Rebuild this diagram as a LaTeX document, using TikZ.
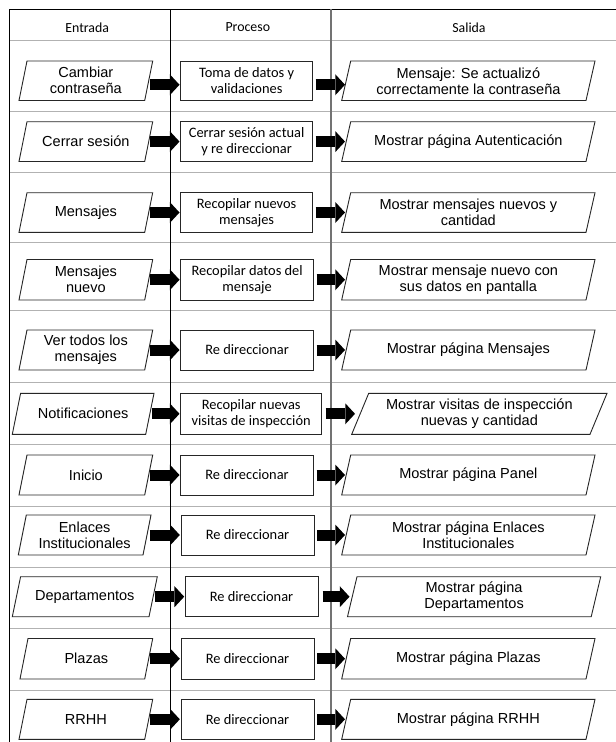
\documentclass[tikz,border=0pt]{standalone}
\usepackage{fontspec}
\setmainfont{Liberation Sans}
\newfontfamily\calfont{Carlito}
\usetikzlibrary{arrows.meta}

% one drawing unit = one pixel of the layout
\newdimen\px \px=0.75pt

\tikzset{
  frameline/.style={draw=black, line width=1\px},
  midline/.style={draw=black!55, line width=1.4\px},
  rowline/.style={draw=black!30, line width=1\px},
  shapeline/.style={draw=black!85, line width=0.9\px, line join=miter},
  % a node spanning the box (x1,y1)-(x2,y2), text centred in it
  spanbox/.style n args={4}{at={({(#1+#3)/2},{(#2+#4)/2})},
    minimum width={(#3-#1)*0.75pt}, minimum height={(#4-#2)*0.75pt}},
  colhead/.style={inner sep=0pt, font=\calfont\fontsize{10.4pt}{12pt}\selectfont},
  inshape/.style={inner sep=0pt, outer sep=0pt, align=center,
    font=\fontsize{10.9pt}{12pt}\selectfont},
  outshape/.style={inshape},
  procbox/.style={draw=black!85, line width=0.9\px, inner sep=0pt, outer sep=0pt,
    align=center, font=\calfont\fontsize{10.8pt}{12pt}\selectfont},
  flow/.style={line width=8.25pt,
    -{Triangle[length=7.3pt, width=15.75pt, line width=0pt]}},
}

% outline of a slanted (data) box around a named node
\newcommand\slantframe[2]{%
  \draw[shapeline] ([xshift=#2\px]#1.north west) -- (#1.north east)
    -- ([xshift=-#2\px]#1.south east) -- (#1.south west) -- cycle;}

\begin{document}
\begin{tikzpicture}[x=0.75pt, y=-0.75pt]
\fill[white] (0,0) rectangle (616,742);
\useasboundingbox (0,0) rectangle (616,742);

% ---- table grid ----
\foreach \yy in {40.7,111,172.7,242.7,310,382.3,444.3,506,567.7,628.3,690}
  \draw[rowline] (9,\yy) -- (616,\yy);
\draw[frameline] (616,9.3) -- (9,9.3) -- (9,742);
\draw[frameline, line width=0.9\px] (170,9.3) -- (170,742);
\draw[midline] (331,9.3) -- (331,742);

% ---- column headings ----
\node[colhead] (hin)  at (87.2,27.5)  {Entrada};
\node[colhead] (hpr)  at (247.8,27.5) {Proceso};
\node[colhead] (hout) at (469,27.5)   {Salida};

% ---- row 1 ----
\node[inshape,  spanbox={19}{61}{152.7}{100.5}]   (in1)  {Cambiar\\contraseña};
\node[procbox,  spanbox={180.7}{61}{312.5}{100.5}] (pr1)  {Toma de datos y\\validaciones};
\node[outshape, spanbox={341.7}{61}{595}{100.5}]  (out1) {Mensaje: Se actualizó\\correctamente la contraseña};
\slantframe{in1}{8}\slantframe{out1}{9}
\draw[flow] ([shift={(-2.5,4)}]in1.east) -- ([shift={(-1.2,4)}]pr1.west);
\draw[flow] ([shift={(3.2,4)}]pr1.east) -- ([shift={(3.3,4)}]out1.west);

% ---- row 2 ----
\node[inshape,  spanbox={19}{121.7}{152.7}{161.5}]   (in2)  {Cerrar sesión};
\node[procbox,  spanbox={180.7}{121.7}{312.5}{161.5}] (pr2)  {Cerrar sesión actual\\y re direccionar};
\node[outshape, spanbox={341.7}{121.7}{595}{161.5}]  (out2) {Mostrar página Autenticación};
\slantframe{in2}{8}\slantframe{out2}{9}
\draw[flow] ([xshift=-2.5\px]in2.east) -- ([xshift=-1.2\px]pr2.west);
\draw[flow] ([xshift=3.2\px]pr2.east) -- ([xshift=3.3\px]out2.west);

% ---- row 3 ----
\node[inshape,  spanbox={19}{192.7}{152.7}{232.3}]   (in3)  {Mensajes};
\node[procbox,  spanbox={180.7}{192.7}{312.5}{232.3}] (pr3)  {Recopilar nuevos\\mensajes};
\node[outshape, spanbox={341.7}{192.7}{595}{232.3}]  (out3) {Mostrar mensajes nuevos y\\cantidad};
\slantframe{in3}{8}\slantframe{out3}{9}
\draw[flow] ([xshift=-2.5\px]in3.east) -- ([xshift=-1.2\px]pr3.west);
\draw[flow] ([xshift=3.2\px]pr3.east) -- ([xshift=3.3\px]out3.west);

% ---- row 4 ----
\node[inshape,  spanbox={19}{259.5}{152.7}{300}]   (in4)  {Mensajes\\nuevo};
\node[procbox,  spanbox={180.7}{259.5}{313.5}{300}] (pr4)  {Recopilar datos del\\mensaje};
\node[outshape, spanbox={341.7}{259.5}{595}{300}]  (out4) {Mostrar mensaje nuevo con\\sus datos en pantalla};
\slantframe{in4}{8}\slantframe{out4}{9}
\draw[flow] ([xshift=-2.5\px]in4.east) -- ([xshift=-1.2\px]pr4.west);
\draw[flow] ([xshift=3.2\px]pr4.east) -- ([xshift=3.3\px]out4.west);

% ---- row 5 ----
\node[inshape,  spanbox={19}{330}{152.7}{370}]   (in5)  {Ver todos los\\mensajes};
\node[procbox,  spanbox={180.7}{330}{313.5}{370}] (pr5)  {Re direccionar};
\node[outshape, spanbox={341.7}{330}{595}{370}]  (out5) {Mostrar página Mensajes};
\slantframe{in5}{8}\slantframe{out5}{9}
\draw[flow] ([xshift=-2.5\px]in5.east) -- ([xshift=-1.2\px]pr5.west);
\draw[flow] ([xshift=3.2\px]pr5.east) -- ([xshift=3.3\px]out5.west);

% ---- row 6 ----
\node[inshape,  spanbox={12.3}{393.3}{154}{434.3}]  (in6)  {Notificaciones};
\node[procbox,  spanbox={180.7}{393.3}{321.7}{434.3}] (pr6) {Recopilar nuevas\\visitas de inspección};
\node[outshape, spanbox={351.7}{393.3}{607}{434.3}] (out6) {Mostrar visitas de inspección\\nuevas y cantidad};
\slantframe{in6}{8.3}\slantframe{out6}{17}
\draw[flow] ([xshift=-2.3\px]in6.east) -- ([xshift=-1.2\px]pr6.west);
\draw[flow] ([xshift=4\px]pr6.east) -- ([xshift=3.3\px]out6.west);

% ---- row 7 ----
\node[inshape,  spanbox={19}{455}{152.7}{495}]   (in7)  {Inicio};
\node[procbox,  spanbox={180.7}{455}{313.3}{495}] (pr7)  {Re direccionar};
\node[outshape, spanbox={341.7}{455}{595}{495}]  (out7) {Mostrar página Panel};
\slantframe{in7}{8}\slantframe{out7}{9}
\draw[flow] ([xshift=-2.5\px]in7.east) -- ([xshift=-1.2\px]pr7.west);
\draw[flow] ([xshift=3.2\px]pr7.east) -- ([xshift=3.3\px]out7.west);

% ---- row 8 ----
\node[inshape,  spanbox={18.3}{515}{151}{555}]  (in8)  {Enlaces\\Institucionales};
\node[procbox,  spanbox={181}{515}{314}{555}]   (pr8)  {Re direccionar};
\node[outshape, spanbox={341.7}{515}{595}{555}] (out8) {Mostrar página Enlaces\\Institucionales};
\slantframe{in8}{8}\slantframe{out8}{9}
\draw[flow] ([xshift=-1.5\px]in8.east) -- ([xshift=-1.2\px]pr8.west);
\draw[flow] ([xshift=3\px]pr8.east) -- ([xshift=3.3\px]out8.west);

% ---- row 9 ----
\node[inshape,  spanbox={12.3}{576.7}{157.3}{616.7}] (in9)  {Departamentos};
\node[procbox,  spanbox={185}{576.7}{318}{616.7}]    (pr9)  {Re direccionar};
\node[outshape, spanbox={347.5}{576.7}{600.7}{616.7}] (out9) {Mostrar página\\Departamentos};
\slantframe{in9}{8.3}\slantframe{out9}{9.5}
\draw[flow] ([xshift=-2.3\px]in9.east) -- ([xshift=-0.8\px]pr9.west);
\draw[flow] ([xshift=4.5\px]pr9.east) -- ([xshift=2\px]out9.west);

% ---- row 10 ----
\node[inshape,  spanbox={20}{638.5}{152.7}{679}]   (in10)  {Plazas};
\node[procbox,  spanbox={181}{638.5}{314}{679}]    (pr10)  {Re direccionar};
\node[outshape, spanbox={341.7}{638.5}{595}{679}]  (out10) {Mostrar página Plazas};
\slantframe{in10}{8}\slantframe{out10}{9}
\draw[flow] ([xshift=-2.5\px]in10.east) -- ([xshift=-1.2\px]pr10.west);
\draw[flow] ([xshift=3\px]pr10.east) -- ([xshift=3.3\px]out10.west);

% ---- row 11 ----
\node[inshape,  spanbox={19}{699.3}{152.7}{739.3}]  (in11)  {RRHH};
\node[procbox,  spanbox={181}{699.3}{314}{739.3}]   (pr11)  {Re direccionar};
\node[outshape, spanbox={341.7}{699.3}{595}{739.3}] (out11) {Mostrar página RRHH};
\slantframe{in11}{8}\slantframe{out11}{9}
\draw[flow] ([xshift=-2.5\px]in11.east) -- ([xshift=-1.2\px]pr11.west);
\draw[flow] ([xshift=3\px]pr11.east) -- ([xshift=3.3\px]out11.west);
\end{tikzpicture}
\end{document}
